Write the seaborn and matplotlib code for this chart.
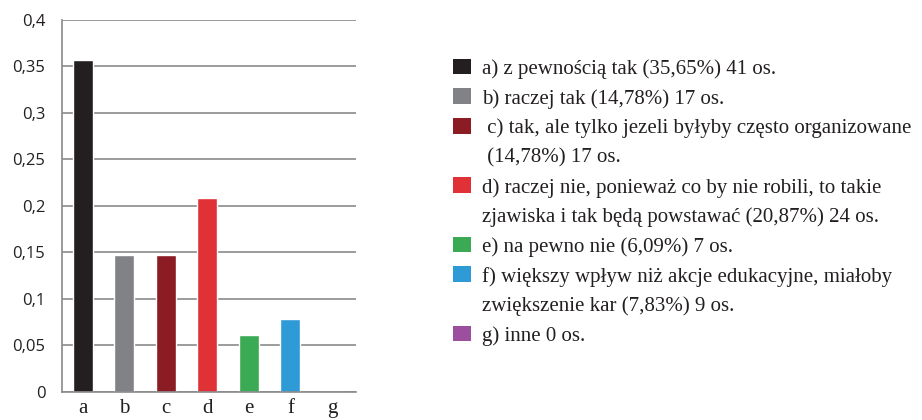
import matplotlib
matplotlib.use("Agg")
import matplotlib.pyplot as plt
from matplotlib.patches import Patch
import seaborn as sns
import pandas as pd

categories = ['a', 'b', 'c', 'd', 'e', 'f', 'g']
shares = [0.3565, 0.1478, 0.1478, 0.2087, 0.0609, 0.0783, 0.0]
colors = ['#231f20', '#808285', '#8b1c24', '#e03236', '#3aaa55', '#2e9ad6', '#9b4f9e']
legend_labels = [
    ['a) z pewnością tak (35,65%) 41 os.'],
    ['b) raczej tak (14,78%) 17 os.'],
    [' c) tak, ale tylko jezeli byłyby często organizowane', ' (14,78%) 17 os.'],
    ['d) raczej nie, ponieważ co by nie robili, to takie',
     'zjawiska i tak będą powstawać (20,87%) 24 os.'],
    ['e) na pewno nie (6,09%) 7 os.'],
    ['f) większy wpływ niż akcje edukacyjne, miałoby', 'zwiększenie kar (7,83%) 9 os.'],
    ['g) inne 0 os.'],
]
yticks = [0, 0.05, 0.1, 0.15, 0.2, 0.25, 0.3, 0.35, 0.4]
ytick_labels = ['0', '0,05', '0,1', '0,15', '0,2', '0,25', '0,3', '0,35', '0,4']

df = pd.DataFrame({'cat': categories, 'share': shares})

sns.set_style('white')
fig = plt.figure(figsize=(9.22, 4.2), dpi=100)
ax = fig.add_axes([0.0672, 0.0667, 0.3190, 0.8857])

sns.barplot(data=df, x='cat', y='share', hue='cat', palette=colors,
            legend=False, width=0.48, saturation=1, ax=ax)

ax.set_xlim(-0.5, 6.58)
ax.set_ylim(0, 0.4)
ax.set_yticks(yticks)
ax.set_yticklabels(ytick_labels, family='Open Sans', fontsize=12, color='#231f20')
ax.tick_params(axis='y', length=0, pad=12)
ax.yaxis.grid(True, color='#8a8a8a', linewidth=1.2)
ax.set_axisbelow(True)
ax.set_xlabel('')
ax.set_ylabel('')

# category labels centred, tick marks between categories
ax.set_xticks(range(len(categories)))
ax.set_xticklabels(categories, family='Liberation Serif', fontsize=15, color='#231f20')
ax.tick_params(axis='x', length=0, pad=5)
ax.set_xticks([i - 0.5 for i in range(len(categories) + 1)], minor=True)
ax.tick_params(axis='x', which='minor', length=5, width=1.2, color='#8a8a8a', direction='out')

for s in ['top', 'right']:
    ax.spines[s].set_visible(False)
for s in ['left', 'bottom']:
    ax.spines[s].set_color('#8a8a8a')
    ax.spines[s].set_linewidth(1.2)

# one legend row per text line; the square only on the first line of each entry
handles, labels = [], []
for color, lines in zip(colors, legend_labels):
    for i, line in enumerate(lines):
        handles.append(Patch(facecolor=color if i == 0 else 'none', edgecolor='none'))
        labels.append(line)

leg = fig.legend(handles, labels, loc='upper left',
                 bbox_to_anchor=(0.491, 0.860), bbox_transform=fig.transFigure,
                 frameon=False, prop={'family': 'Liberation Serif', 'size': 15},
                 handlelength=0.86, handleheight=0.78, handletextpad=0.55,
                 labelspacing=0.46, borderpad=0, borderaxespad=0)
for t in leg.get_texts():
    t.set_color('#231f20')

fig.savefig('out.png', dpi=100)
